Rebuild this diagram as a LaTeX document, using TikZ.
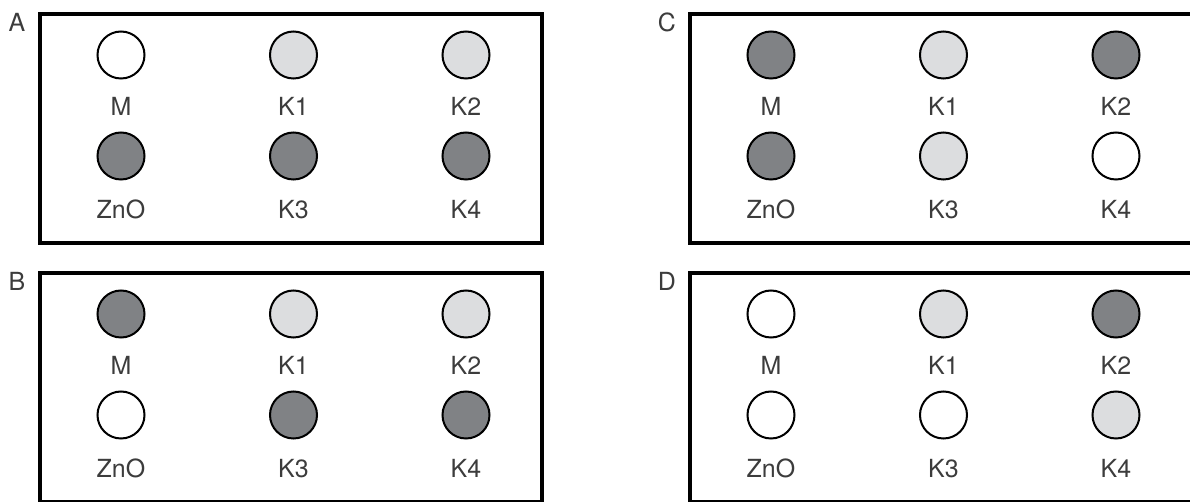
\documentclass[tikz,border=0pt]{standalone}
\usepackage{fontspec}
\setmainfont{TeX Gyre Heros}
\usetikzlibrary{positioning}
\definecolor{dotdark}{RGB}{128,130,133}
\definecolor{dotlight}{RGB}{220,221,223}
\definecolor{labelgray}{RGB}{60,60,60}

\begin{document}
\begin{tikzpicture}[
  x=0.1mm, y=-0.1mm,
  on grid,
  dotstyle/.style={
        draw,
        circle,
        line width=0.2mm,
        minimum size=4.7mm,
        inner sep=0pt
  },
  textstyle/.style={
        text=labelgray,
        font=\fontsize{7.1}{8}\selectfont,
        inner sep=0pt,
        text height=1.8mm,
        text depth=0pt
  },
  framestyle/.style={
        line width=0.35mm
  }
]

    \useasboundingbox (0,0) rectangle (1190,502);

    \foreach \p/\bx/\by/\cM/\cKa/\cKb/\cZ/\cKc/\cKd in {
        A/40/14/white/dotlight/dotlight/dotdark/dotdark/dotdark,
        B/40/273/dotdark/dotlight/dotlight/white/dotdark/dotdark,
        C/690/14/dotdark/dotlight/dotdark/dotdark/dotlight/white,
        D/690/273/white/dotlight/dotdark/white/white/dotlight}{

        \draw[framestyle] (\bx,\by) rectangle ++(502,229);
        \node[textstyle] (tag_\p) at (\bx-23,\by+9) {\p};

        \node[dotstyle, fill=\cM] (M_\p) at (\bx+81,\by+41) {};
        \node[dotstyle, fill=\cKa, right=17.25mm of M_\p] (K1_\p) {};
        \node[dotstyle, fill=\cKb, right=17.25mm of K1_\p] (K2_\p) {};
        \node[dotstyle, fill=\cZ, below=10.1mm of M_\p] (ZnO_\p) {};
        \node[dotstyle, fill=\cKc, right=17.25mm of ZnO_\p] (K3_\p) {};
        \node[dotstyle, fill=\cKd, right=17.25mm of K3_\p] (K4_\p) {};

        \node[textstyle, below=5.2mm of M_\p] (lM_\p) {M};
        \node[textstyle, below=5.2mm of K1_\p] (lK1_\p) {K1};
        \node[textstyle, below=5.2mm of K2_\p] (lK2_\p) {K2};
        \node[textstyle, below=5.35mm of ZnO_\p] (lZnO_\p) {ZnO};
        \node[textstyle, below=5.35mm of K3_\p] (lK3_\p) {K3};
        \node[textstyle, below=5.35mm of K4_\p] (lK4_\p) {K4};
    }
\end{tikzpicture}
\end{document}
